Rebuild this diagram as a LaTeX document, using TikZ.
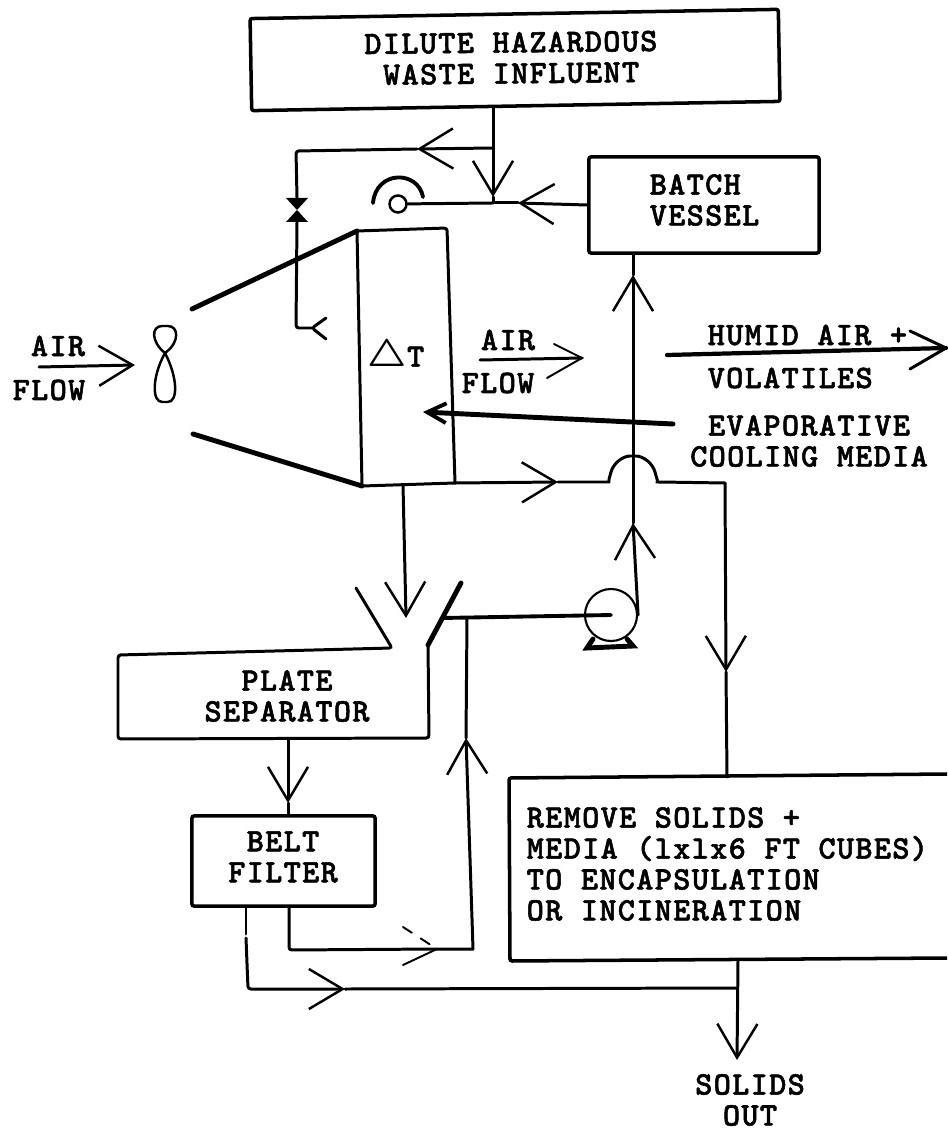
\documentclass[tikz,border=0pt]{standalone}
\usepackage{fontspec}
\usetikzlibrary{arrows.meta,calc}
\newfontfamily\typefont{Latin Modern Mono Light}[LetterSpace=4,FakeBold=1.6]
\begin{document}
\begin{tikzpicture}[font=\typefont\bfseries\fontsize{9.3}{8.8}\selectfont,>={Straight Barb[length=9.6pt,width=11.4pt,line width=.7pt]},x=.01cm,y=-.01cm]
\tikzset{wire/.style={line width=.85pt,line cap=round,rounded corners=.8pt},
thickwire/.style={line width=1.4pt,line cap=round},
thinwire/.style={line width=.55pt,line cap=round},
box/.style={draw,line width=1pt,rounded corners=.6pt,inner sep=0pt},
lbl/.style={inner sep=0pt,align=center},
lblleft/.style={inner sep=0pt,align=left,anchor=west}}
\useasboundingbox (0,0) rectangle (947,1128);

\node[box,minimum width=5.28cm,minimum height=.92cm,rotate=1] (influent) at (515,60){};
\node[lbl,rotate=.6] (influenttxt) at (511,58){DILUTE HAZARDOUS\\WASTE INFLUENT};
\node[box,minimum width=2.3cm,minimum height=.96cm] (batch) at (704,205){};
\node[lblleft,align=left] (batchtxt) at (649,200){BATCH\\VESSEL};
\node[box,minimum width=1.83cm,minimum height=.9cm] (belt) at (283.5,861){};
\node[lbl] (belttxt) at (283,857){BELT\\FILTER};
\node[lbl] (platetxt) at (287,696){PLATE\\SEPARATOR};
\node[lblleft] (removetxt) at (526,864){REMOVE SOLIDS +\\MEDIA (lxlx6 FT CUBES)\\TO ENCAPSULATION\\OR INCINERATION};
\node[lbl] (solidstxt) at (750,1100){SOLIDS\\OUT};
\node[lbl] (air1txt) at (58,346){AIR};
\node[lbl] (flow1txt) at (49,390){FLOW};
\node[lbl] (air2txt) at (508,340){AIR};
\node[lbl] (flow2txt) at (498,383){FLOW};
\node[lblleft] (humidtxt) at (707,335){HUMID AIR +};
\node[lblleft] (volatxt) at (707,378){VOLATILES};
\node[lbl] (evaptxt) at (809,441){EVAPORATIVE\\COOLING MEDIA};
\node[lbl] (dttxt) at (396,357){{\fontsize{10.5}{10.5}\selectfont\boldmath\(\triangle\)}T};
\node[draw,circle,line width=.7pt,minimum size=.17cm,inner sep=0pt] (nozzle) at (398,204){};
\node[draw,circle,line width=.6pt,minimum size=.52cm,inner sep=0pt] (pump) at (611,615){};

\coordinate (branch) at (493,148);
\coordinate (feedtip) at (493,197);
\coordinate (junc) at (493,203);
\coordinate (branchtip) at (417,149);
\coordinate (branchend) at (296,151);
\coordinate (valve) at (297,210);
\coordinate (teecorner) at (296,328);
\coordinate (tee) at (312,328);
\coordinate (batchtip) at (518,203);
\coordinate (dtTL) at (357,231);
\coordinate (dtTR) at (447,228);
\coordinate (dtBR) at (455,483);
\coordinate (dtBL) at (362,486);
\coordinate (ductT) at (192,309);
\coordinate (ductB) at (193,434);
\coordinate (hotout) at (403,485);
\coordinate (hottip) at (406,618);
\coordinate (wastetip) at (558,482);
\coordinate (humpL) at (606,482);
\coordinate (humpR) at (660,482);
\coordinate (wastecorner) at (725,483);
\coordinate (wastedown) at (726,672);
\coordinate (uptipA) at (633,275);
\coordinate (uptipB) at (633,523);
\coordinate (funL) at (356,588);
\coordinate (funLb) at (392,648);
\coordinate (plateTL) at (118,655);
\coordinate (plateBL) at (118,739);
\coordinate (plateBR) at (429,738);
\coordinate (funRb) at (428,645);
\coordinate (funR) at (461,583);
\coordinate (funRm) at (442,618);
\coordinate (retjoin) at (467,618);
\coordinate (rettip) at (466,738);
\coordinate (retcorner) at (473,949);
\coordinate (rettipB) at (437,949);
\coordinate (retstart) at (289,906);
\coordinate (retbend) at (289,950);
\coordinate (platebelt) at (288,739);
\coordinate (platebelttip) at (288,803);
\coordinate (cakeA) at (246,906);
\coordinate (cakeB) at (246,934);
\coordinate (cakeC) at (246,938);
\coordinate (cakebend) at (248,989);
\coordinate (caketip) at (345,989);
\coordinate (cakejoin) at (737,988);
\coordinate (remTR) at (947,774);
\coordinate (remTL) at (509,778);
\coordinate (remBL) at (510,961);
\coordinate (remBR) at (947,958);
\coordinate (remin) at (727,777);
\coordinate (remout) at (738,960);
\coordinate (outtip) at (737,1060);
\coordinate (air1a) at (39,367);
\coordinate (air1b) at (135,365);
\coordinate (air2a) at (480,360);
\coordinate (air2b) at (582,358);
\coordinate (humida) at (667,355);
\coordinate (humidb) at (946,348);
\coordinate (evapa) at (673,424);
\coordinate (evapb) at (423,412);

\draw[wire,->] (influent.south -| branch) -- (branch) -- (feedtip);
\draw[wire] (feedtip) -- (junc);
\draw[wire,->] (branch) -- (branchtip);
\draw[wire] (branchtip) -- (branchend) -- ($(valve)+(0,-12)$);
\fill ($(valve)+(-11,-12)$) -- ($(valve)+(11,-12)$) -- ($(valve)+(-11,12)$) -- ($(valve)+(11,12)$) -- cycle;
\draw[wire] ($(valve)+(0,12)$) -- (teecorner) -- (tee);
\draw[wire] (326,318) -- (tee) -- (326,339);
\draw[wire] (nozzle) -- (junc);
\draw[wire,->] (batch.west) -- (batchtip);
\draw[wire] (batchtip) -- (junc);
\draw[line width=1.1pt,line cap=round] (373,203) .. controls (376,170) and (418,170) .. (423,197);

\draw[wire] (dtTL) -- (dtTR) -- (dtBR);
\draw[wire] (dtTL) -- (dtBL);
\draw[thickwire] (ductT) -- (dtTL);
\draw[thickwire] (ductB) -- (dtBL);
\draw[wire,->] (dtBL) -- (dtBR) -- (wastetip);
\draw[wire] (wastetip) -- (humpL) .. controls (609,482) and (609,479) .. (610,476) .. controls (613,463) and (623,456) .. (633,456) .. controls (643,456) and (653,463) .. (656,476) .. controls (657,479) and (658,482) .. (humpR) -- (wastecorner);
\draw[wire,->] (wastecorner) -- (wastedown);
\draw[wire] (wastedown) -- (remin);
\draw[wire,->] (hotout) -- (hottip);

\draw[wire,->] (pump.east) -- (uptipB);
\draw[wire,->] (uptipB) -- (uptipA);
\draw[wire] (uptipA) -- (batch.south -| uptipA);
\draw[line width=1.1pt,line cap=round] (funRm) -- (pump.center);
\draw[thickwire] (593,639) -- (587,648) -- (633,646) -- (627,639);

\draw[wire] (funL) -- (funLb) -- (plateTL) -- (plateBL) -- (plateBR) -- (funRb);
\draw[thickwire] (funRb) -- (funR);
\draw[wire,->] (retcorner) -- (rettip);
\draw[wire] (rettip) -- (retjoin);
\draw[wire] (retstart) -- (retbend) -- (rettipB) -- (retcorner);
\draw[thinwire,dashed] (403,927) -- (rettipB);
\draw[thinwire] (403,965) -- (rettipB);
\draw[wire,->] (platebelt) -- (platebelttip);
\draw[wire] (platebelttip) -- (platebelttip |- belt.north);
\draw[wire] (cakeA) -- (cakeB);
\draw[wire,->] (cakeC) -- (cakebend) -- (caketip);
\draw[wire] (caketip) -- (cakejoin);
\draw[line width=1pt,rounded corners=.6pt] (remTR) -- (remTL) -- (remBL) -- (remBR);
\draw[wire,->] (remout) -- (outtip);

\draw[wire,->] (air1a) -- (air1b);
\draw[thickwire,-{Straight Barb[length=5.4pt,width=5.6pt,line width=1.1pt]}] (evapa) -- (evapb);
\draw[wire] (air2a) -- (air2b);
\draw[thinwire] (554,344) -- (air2b) -- (547,378);
\draw[wire,line width=1.2pt] (humida) -- (humidb);
\draw[wire] (910,331) -- (humidb) -- (910,369);
\draw[wire,line width=.7pt] (165,353) .. controls (151,342) and (151,326) .. (165,326) .. controls (179,326) and (179,342) .. (165,353) .. controls (152,378) and (152,402) .. (165,402) .. controls (178,402) and (178,378) .. (165,353);
\end{tikzpicture}
\end{document}
